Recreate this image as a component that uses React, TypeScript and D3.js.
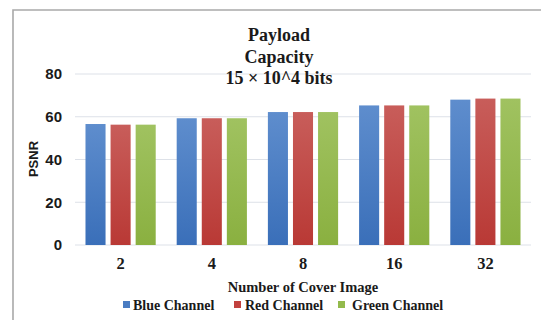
import React from "react";
import * as d3 from "d3";

// Number of cover images on the x axis
const categories = ["2", "4", "8", "16", "32"];
// PSNR per channel
const blueChannel = [56.6, 59.3, 62.2, 65.3, 68.0];
const redChannel = [56.3, 59.3, 62.2, 65.3, 68.5];
const greenChannel = [56.3, 59.3, 62.2, 65.3, 68.5];
const seriesNames = ["Blue Channel", "Red Channel", "Green Channel"];
const yTicks = [0, 20, 40, 60, 80];
const titleLines = ["Payload", "Capacity", "15 × 10^4 bits"];

const seriesColors = [
  { top: "#5e8dcd", bottom: "#3a6fb9", legend: "#4a7cc2" },
  { top: "#c85d5a", bottom: "#b93935", legend: "#c2413e" },
  { top: "#a0c260", bottom: "#8ab040", legend: "#93ba4c" },
];

const W = 541;
const H = 320;
const plot = { left: 75, right: 531, top: 74, bottom: 245 };

const serif = "'Liberation Serif', 'Times New Roman', serif";
const sans = "'Liberation Sans', Arial, sans-serif";

export default function App() {
  const values = [blueChannel, redChannel, greenChannel];

  const x0 = d3
    .scaleBand<string>()
    .domain(categories)
    .range([plot.left, plot.right])
    .paddingInner(0.23)
    .paddingOuter(0.115);
  const x1 = d3
    .scaleBand<number>()
    .domain(d3.range(seriesNames.length))
    .range([0, x0.bandwidth()])
    .paddingInner(0.2);
  const y = d3.scaleLinear().domain([0, 80]).range([plot.bottom, plot.top]);

  const legendItems = [
    { sq: 123, tx: 133 },
    { sq: 234, tx: 245 },
    { sq: 338, tx: 352 },
  ];

  return (
    <svg
      width={W}
      height={H}
      style={{ position: "absolute", left: 0, top: 0, background: "#fff" }}
    >
      <defs>
        {seriesColors.map((c, i) => (
          <linearGradient key={i} id={`grad${i}`} x1="0" y1="0" x2="0" y2="1">
            <stop offset="0%" stopColor={c.top} />
            <stop offset="100%" stopColor={c.bottom} />
          </linearGradient>
        ))}
      </defs>
      <rect x={0} y={0} width={W} height={H} fill="#fff" />
      {/* chart frame */}
      <path d={`M13,${H} V10 H${W}`} fill="none" stroke="#a9a9a9" strokeWidth={1.6} />

      {/* gridlines */}
      {yTicks.map((t) => (
        <line
          key={t}
          x1={plot.left}
          x2={plot.right}
          y1={y(t)}
          y2={y(t)}
          stroke="#dde1e8"
          strokeWidth={1}
        />
      ))}

      {/* y tick labels */}
      {yTicks.map((t) => (
        <text
          key={t}
          x={62}
          y={y(t)}
          dy="0.36em"
          textAnchor="end"
          fontFamily={sans}
          fontWeight="bold"
          fontSize={15}
          fill="#1a1a1a"
        >
          {t}
        </text>
      ))}

      {/* bars */}
      {categories.map((cat, ci) => (
        <g key={cat} transform={`translate(${x0(cat)},0)`}>
          {values.map((vals, si) => (
            <rect
              key={si}
              x={x1(si)}
              y={y(vals[ci])}
              width={x1.bandwidth()}
              height={y(0) - y(vals[ci])}
              fill={`url(#grad${si})`}
            />
          ))}
        </g>
      ))}

      {/* x tick labels */}
      {categories.map((cat) => (
        <text
          key={cat}
          x={(x0(cat) as number) + x0.bandwidth() / 2}
          y={269}
          textAnchor="middle"
          fontFamily={serif}
          fontWeight="bold"
          fontSize={16.5}
          fill="#1a1a1a"
        >
          {cat}
        </text>
      ))}

      {/* title */}
      {titleLines.map((line, i) => (
        <text
          key={i}
          x={279}
          y={41 + i * 21.5}
          textAnchor="middle"
          fontFamily={serif}
          fontWeight="bold"
          fontSize={18}
          fill="#1a1a1a"
        >
          {line}
        </text>
      ))}

      {/* axis titles */}
      <text
        x={303}
        y={292}
        textAnchor="middle"
        fontFamily={serif}
        fontWeight="bold"
        fontSize={14.5}
        fill="#1a1a1a"
      >
        Number of Cover Image
      </text>
      <text
        transform={`translate(38,159) rotate(-90)`}
        textAnchor="middle"
        fontFamily={sans}
        fontWeight="bold"
        fontSize={13}
        fill="#1a1a1a"
      >
        PSNR
      </text>

      {/* legend */}
      {seriesNames.map((name, i) => (
        <g key={name}>
          <rect
            x={legendItems[i].sq}
            y={301}
            width={7}
            height={7}
            fill={seriesColors[i].legend}
          />
          <text
            x={legendItems[i].tx}
            y={310}
            fontFamily={serif}
            fontWeight="bold"
            fontSize={14}
            fill="#1a1a1a"
          >
            {name}
          </text>
        </g>
      ))}
    </svg>
  );
}
